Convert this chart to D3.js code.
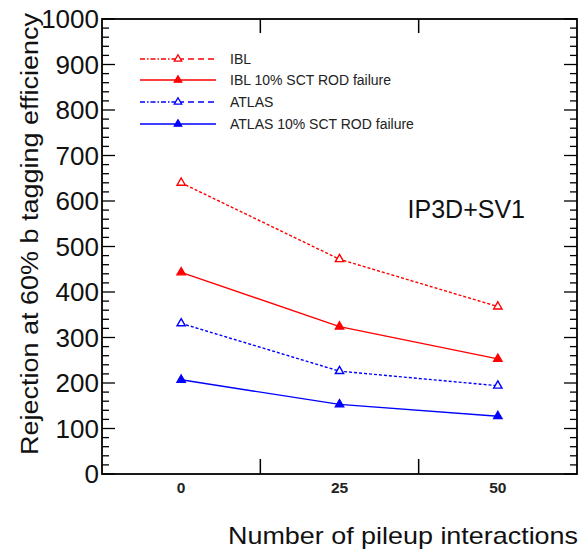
<!DOCTYPE html>
<html>
<head>
<meta charset="utf-8">
<script src="https://cdn.jsdelivr.net/npm/d3@7"></script>
<style>
  body { margin: 0; background: #fff; }
  text { font-family: "Liberation Sans", Arial, sans-serif; }
</style>
</head>
<body>
<svg id="chart" width="584" height="550"></svg>
<script>
// pileup values and rejection numbers
var pileup = [0, 25, 50];
var iblValues = [640, 472, 368];
var iblFailValues = [443, 324, 253];
var atlasValues = [331, 226, 194];
var atlasFailValues = [207, 153, 127];
var seriesNames = ["IBL", "IBL 10% SCT ROD failure", "ATLAS", "ATLAS 10% SCT ROD failure"];
var yTickValues = [0, 100, 200, 300, 400, 500, 600, 700, 800, 900, 1000];
var xMajorTicks = [12.5, 37.5];

var series = [
    {name: seriesNames[0], values: iblValues, color: "#ff0000", open: true},
    {name: seriesNames[1], values: iblFailValues, color: "#ff0000", open: false},
    {name: seriesNames[2], values: atlasValues, color: "#0000ff", open: true},
    {name: seriesNames[3], values: atlasFailValues, color: "#0000ff", open: false}
];

var svg = d3.select("#chart");
// note: "top" is taken by window.top, so use frame* names
var frameL = 102, frameR = 577, frameT = 19, frameB = 474;

var x = d3.scaleLinear().domain([-12.5, 62.5]).range([frameL, frameR]);
var y = d3.scaleLinear().domain([0, 1000]).range([frameB, frameT]);

// minor ticks every 20 on both sides
var minor = d3.range(0, 1001, 20);
var g = svg.append("g");
minor.forEach(function(v) {
    var len = (v % 100 == 0) ? 13 : 7;
    g.append("line").attr("x1", frameL).attr("x2", frameL + len)
        .attr("y1", y(v)).attr("y2", y(v)).attr("stroke", "#000").attr("stroke-width", 1.3);
    g.append("line").attr("x1", frameR).attr("x2", frameR - len)
        .attr("y1", y(v)).attr("y2", y(v)).attr("stroke", "#000").attr("stroke-width", 1.3);
});

// x ticks sit between the categories, top and bottom
xMajorTicks.forEach(function(v) {
    g.append("line").attr("x1", x(v)).attr("x2", x(v))
        .attr("y1", frameB).attr("y2", frameB - 15).attr("stroke", "#000").attr("stroke-width", 1.5);
    g.append("line").attr("x1", x(v)).attr("x2", x(v))
        .attr("y1", frameT).attr("y2", frameT + 14).attr("stroke", "#000").attr("stroke-width", 1.5);
});

svg.append("rect").attr("x", frameL).attr("y", frameT)
    .attr("width", frameR - frameL).attr("height", frameB - frameT)
    .attr("fill", "none").attr("stroke", "#000").attr("stroke-width", 1.8);

// y tick labels
svg.selectAll(".ylab").data(yTickValues).enter().append("text")
    .attr("x", frameL - 3).attr("y", function(d) { return y(d) + 9; })
    .attr("text-anchor", "end").attr("font-size", 26).attr("fill", "#111")
    .text(function(d) { return d; });

// x tick labels
svg.selectAll(".xlab").data(pileup).enter().append("text")
    .attr("x", function(d) { return x(d); }).attr("y", 493)
    .attr("text-anchor", "middle").attr("font-size", 15.5).attr("font-weight", "bold").attr("fill", "#222")
    .text(function(d) { return d; });

// titles are a bit wide in the original, so stretch them
svg.append("text").attr("x", 228).attr("y", 544)
    .attr("font-size", 24).attr("fill", "#111")
    .attr("textLength", 350).attr("lengthAdjust", "spacingAndGlyphs")
    .text("Number of pileup interactions");

svg.append("text").attr("transform", "translate(38,455) rotate(-90)")
    .attr("text-anchor", "start").attr("font-size", 23).attr("fill", "#111")
    .attr("textLength", 442).attr("lengthAdjust", "spacingAndGlyphs")
    .text("Rejection at 60% b tagging efficiency");

svg.append("text").attr("x", 525).attr("y", 218).attr("text-anchor", "end")
    .attr("font-size", 25).attr("fill", "#111").text("IP3D+SV1");

var line = d3.line()
    .x(function(d, i) { return x(pileup[i]); })
    .y(function(d) { return y(d); });
var tri = d3.symbol().type(d3.symbolTriangle).size(30);

series.forEach(function(s) {
    svg.append("path").attr("d", line(s.values))
        .attr("fill", "none").attr("stroke", s.color).attr("stroke-width", 1.4)
        .attr("stroke-dasharray", s.open ? "3,2" : null);
    svg.selectAll(null).data(s.values).enter().append("path")
        .attr("d", tri)
        .attr("transform", function(d, i) { return "translate(" + x(pileup[i]) + "," + y(d) + ")"; })
        .attr("fill", s.open ? "#fff" : s.color)
        .attr("stroke", s.color).attr("stroke-width", 1.4);
});

// legend
var legY = [59, 80, 102, 124];
series.forEach(function(s, i) {
    var ly = legY[i];
    if (s.open) {
        svg.append("line").attr("x1", 140).attr("x2", 178).attr("y1", ly).attr("y2", ly)
            .attr("stroke", s.color).attr("stroke-width", 1.3).attr("stroke-dasharray", "5,2,1.5,2");
        svg.append("line").attr("x1", 178).attr("x2", 216).attr("y1", ly).attr("y2", ly)
            .attr("stroke", s.color).attr("stroke-width", 1.3).attr("stroke-dasharray", "6,4");
    } else {
        svg.append("line").attr("x1", 140).attr("x2", 216).attr("y1", ly).attr("y2", ly)
            .attr("stroke", s.color).attr("stroke-width", 1.6);
    }
    svg.append("path").attr("d", d3.symbol().type(d3.symbolTriangle).size(24))
        .attr("transform", "translate(178," + ly + ")")
        .attr("fill", s.open ? "#fff" : s.color)
        .attr("stroke", s.color).attr("stroke-width", 1.3);
    svg.append("text").attr("x", 230).attr("y", ly + 5)
        .attr("font-size", 14).attr("fill", "#222").text(s.name);
});
</script>
</body>
</html>
